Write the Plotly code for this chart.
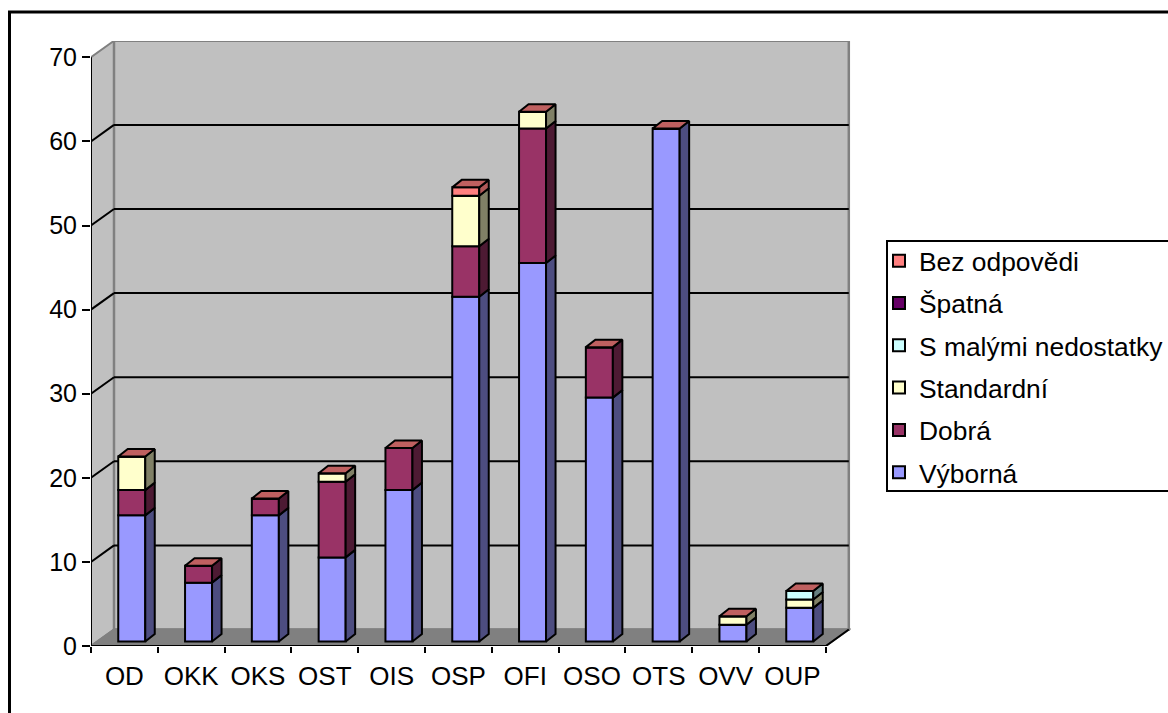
import plotly.graph_objects as go

categories = ["OD", "OKK", "OKS", "OST", "OIS", "OSP", "OFI", "OSO", "OTS", "OVV", "OUP"]
vyborna = [15, 7, 15, 10, 18, 41, 45, 29, 61, 2, 4]
dobra = [3, 2, 2, 9, 5, 6, 16, 6, 0, 0, 0]
standardni = [4, 0, 0, 1, 0, 6, 2, 0, 0, 1, 1]
s_malymi = [0, 0, 0, 0, 0, 0, 0, 0, 0, 0, 1]
spatna = [0, 0, 0, 0, 0, 0, 0, 0, 0, 0, 0]
bez_odpovedi = [0, 0, 0, 0, 0, 1, 0, 0, 0, 0, 0]
y_ticks = [0, 10, 20, 30, 40, 50, 60, 70]

series = [
    ("Výborná", vyborna, "#9999FF", "#4D4D80"),
    ("Dobrá", dobra, "#993366", "#4D1A33"),
    ("Standardní", standardni, "#FFFFCC", "#808066"),
    ("S malými nedostatky", s_malymi, "#CCFFFF", "#668080"),
    ("Špatná", spatna, "#660066", "#330033"),
    ("Bez odpovědi", bez_odpovedi, "#FF8080", "#B05858"),
]
top_colour = "#BF6060"

# geometry of the pseudo-3D box, in axis units
PX_X = 66.8          # pixels per category
PX_Y = 8.41          # pixels per value unit
X_MAX = 760 / PX_X
Y_MAX = 605 / PX_Y
WALL_DX = 23 / PX_X
WALL_DY = 16.5 / PX_Y
BAR_CENTRE = 0.61
BAR_W = 27 / PX_X
BAR_DX = 9.5 / PX_X
BAR_DY = 7.5 / PX_Y
BAR_BASE = 4.5 / PX_Y
n = len(categories)

fig = go.Figure()
xs = [i + BAR_CENTRE for i in range(n)]
cum = [0] * n
for k, (name, vals, col, side) in enumerate(series):
    fig.add_trace(go.Bar(
        x=xs, y=vals, base=[c + BAR_BASE for c in cum], width=BAR_W, name=name,
        legendgroup=name, legendrank=100 - k,
        marker=dict(color=col, line=dict(color="black", width=2)),
        hoverinfo="skip"))
    sx, sy = [], []
    for i in range(n):
        if vals[i] > 0:
            r = xs[i] + BAR_W / 2
            b = cum[i] + BAR_BASE
            t = b + vals[i]
            sx += [r, r + BAR_DX, r + BAR_DX, r, r, None]
            sy += [b, b + BAR_DY, t + BAR_DY, t, b, None]
    fig.add_trace(go.Scatter(
        x=sx, y=sy, mode="lines", fill="toself", fillcolor=side,
        line=dict(color="black", width=2), legendgroup=name, showlegend=False,
        hoverinfo="skip", cliponaxis=False))
    cum = [c + v for c, v in zip(cum, vals)]

tx, ty = [], []
for i in range(n):
    l = xs[i] - BAR_W / 2
    r = xs[i] + BAR_W / 2
    t = cum[i] + BAR_BASE
    tx += [l, r, r + BAR_DX, l + BAR_DX, l, None]
    ty += [t, t, t + BAR_DY, t + BAR_DY, t, None]
fig.add_trace(go.Scatter(
    x=tx, y=ty, mode="lines", fill="toself", fillcolor=top_colour,
    line=dict(color="black", width=2), showlegend=False, hoverinfo="skip", cliponaxis=False))

# y axis line, x axis line and right floor edge
fig.add_trace(go.Scatter(
    x=[0, 0, n, n + WALL_DX], y=[70, 0, 0, WALL_DY], mode="lines",
    line=dict(color="black", width=2), showlegend=False, hoverinfo="skip", cliponaxis=False))


def poly(pts, fill, line="#808080", w=2):
    path = "M" + " L".join(f"{a},{b}" for a, b in pts) + " Z"
    return dict(type="path", path=path, xref="x", yref="y", fillcolor=fill,
                line=dict(color=line, width=w), layer="below")


top = 70 + WALL_DY
shapes = [
    poly([(0, 0), (WALL_DX, WALL_DY), (WALL_DX, top), (0, 70)], "#C0C0C0"),
    poly([(WALL_DX, WALL_DY), (n + WALL_DX, WALL_DY), (n + WALL_DX, top), (WALL_DX, top)], "#C0C0C0", w=2.5),
    poly([(0, 0), (n, 0), (n + WALL_DX, WALL_DY), (WALL_DX, WALL_DY)], "#808080"),
]
for v in y_ticks[1:-1]:
    shapes.append(dict(type="line", xref="x", yref="y", x0=0, y0=v, x1=WALL_DX, y1=v + WALL_DY,
                       line=dict(color="black", width=2), layer="below"))
    shapes.append(dict(type="line", xref="x", yref="y", x0=WALL_DX, y0=v + WALL_DY, x1=n + WALL_DX,
                       y1=v + WALL_DY, line=dict(color="black", width=2), layer="below"))
# outer chart frame and legend box
shapes.append(dict(type="rect", xref="paper", yref="paper",
                   x0=(9.5 - 91) / 760, x1=(1200 - 91) / 760,
                   y0=(646 - 760) / 605, y1=(646 - 12) / 605,
                   line=dict(color="black", width=3), layer="below"))
shapes.append(dict(type="rect", xref="paper", yref="paper",
                   x0=(887 - 91) / 760, x1=(1200 - 91) / 760,
                   y0=(646 - 491) / 605, y1=(646 - 241) / 605,
                   fillcolor="white", line=dict(color="black", width=2), layer="below"))

family = "Liberation Sans, Arial, sans-serif"
fig.update_layout(
    width=1168, height=713, autosize=False,
    margin=dict(l=91, r=317, t=41, b=67),
    paper_bgcolor="white", plot_bgcolor="rgba(0,0,0,0)",
    barmode="overlay", shapes=shapes, font=dict(family=family, size=25, color="black"),
    xaxis=dict(range=[0, X_MAX], tickvals=[i + 0.5 for i in range(n)], ticktext=categories,
               ticks="", showgrid=False, zeroline=False, showline=False, ticklabelstandoff=12,
               minor=dict(tickvals=list(range(n + 1)), ticks="outside", ticklen=6, tickwidth=2,
                          tickcolor="black", showgrid=False),
               tickfont=dict(family=family, size=26, color="black")),
    yaxis=dict(range=[0, Y_MAX], tickvals=y_ticks, ticks="outside", ticklen=8, tickwidth=2,
               tickcolor="black", showgrid=False, zeroline=False, showline=False,
               tickfont=dict(family=family, size=25, color="black"), anchor="x"),
    legend=dict(xref="container", yref="container", x=879 / 1168, y=1 - 237 / 713,
                xanchor="left", yanchor="top",
                traceorder="grouped", tracegroupgap=5, bgcolor="rgba(0,0,0,0)",
                borderwidth=0, font=dict(family=family, size=26.4, color="black"),
                itemclick=False, itemdoubleclick=False),
    showlegend=True,
)
fig.write_html("out.html", post_script="document.body.style.margin='0';",
               config={"displayModeBar": False})
